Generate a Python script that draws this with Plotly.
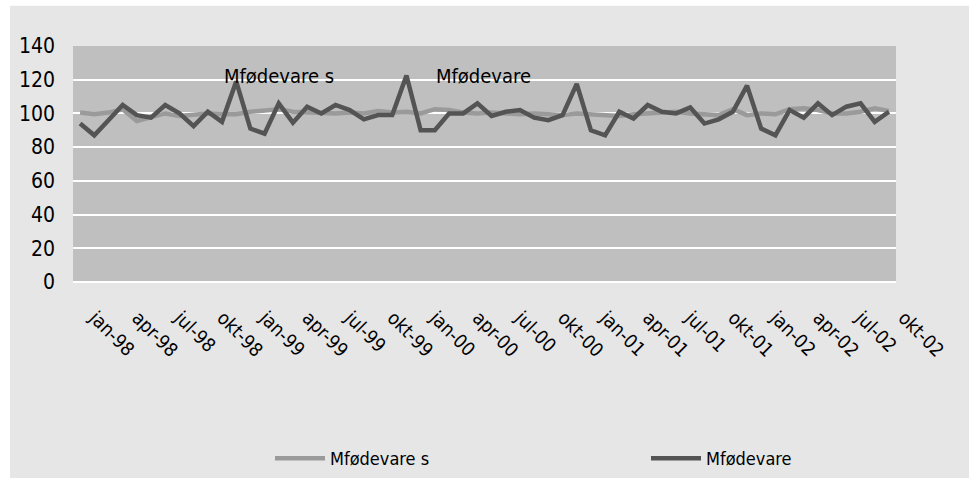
import plotly.graph_objects as go

# Monthly index, jan-98 .. okt-02
tick_labels = ["jan-98", "apr-98", "jul-98", "okt-98", "jan-99", "apr-99", "jul-99", "okt-99",
               "jan-00", "apr-00", "jul-00", "okt-00", "jan-01", "apr-01", "jul-01", "okt-01",
               "jan-02", "apr-02", "jul-02", "okt-02"]

mfoedevare_s = [100.5, 99.5, 100.5, 102.5, 95.5, 98, 100, 98.5, 99, 100, 99.5, 99.5,
                101, 102, 102.5, 101, 100.5, 100, 100, 100.5, 100, 101.5, 100.5, 101,
                100, 102.5, 102, 100.5, 100, 100.5, 100, 99.5, 100, 99.5, 99, 100,
                99.5, 98.5, 98.5, 99.5, 100, 100.5, 101, 100, 99.5, 99, 102.5, 99,
                100, 99.5, 102.5, 103, 102, 100, 100, 101, 103, 101.5]

mfoedevare = [94, 87, 96, 105, 99, 97.5, 105, 100, 92.5, 101, 95, 119,
              91, 88, 106, 94.5, 104, 100, 105, 102, 96.5, 99, 99, 122.5,
              90, 90, 100, 100, 106, 98.5, 101, 102, 97.5, 96, 99, 117.5,
              90, 87, 101, 97, 105, 101, 100, 103.5, 94, 96.5, 101, 116.5,
              91, 87, 102, 97.5, 106, 99, 104, 106, 95, 101]

y_ticks = [0, 20, 40, 60, 80, 100, 120, 140]

months = list(range(len(mfoedevare)))
tick_pos = months[::3]

FONT = "DejaVu Sans Condensed, Liberation Sans Narrow, Arial Narrow, sans-serif"

fig = go.Figure()
fig.add_trace(go.Scatter(x=months, y=mfoedevare_s, mode="lines", name="Mfødevare s",
                         line=dict(color="#9a9a9a", width=4.5)))
fig.add_trace(go.Scatter(x=months, y=mfoedevare, mode="lines", name="Mfødevare",
                         line=dict(color="#545454", width=4.5)))

# series name labels inside the plot
fig.add_annotation(x=14, y=122, text="Mfødevare s", showarrow=False,
                   font=dict(family=FONT, size=20, color="black"))
fig.add_annotation(x=28.4, y=122, text="Mfødevare", showarrow=False,
                   font=dict(family=FONT, size=20, color="black"))

# white strips along the top and left edges of the chart frame
fig.add_shape(type="rect", xref="paper", yref="paper", x0=-0.2, x1=1.2,
              y0=(282.3 - 6) / 236, y1=1.5, fillcolor="white", line_width=0, layer="below")
fig.add_shape(type="rect", xref="paper", yref="paper", x0=-0.2, x1=-63 / 823,
              y0=-1, y1=1.5, fillcolor="white", line_width=0, layer="below")

fig.update_layout(
    width=969, height=478,
    margin=dict(l=73, r=73, t=46, b=196),
    paper_bgcolor="#e6e6e6",
    plot_bgcolor="#bfbfbf",
    font=dict(family=FONT, size=20, color="black"),
    showlegend=True,
    legend=dict(orientation="h", xref="container", yref="container",
                x=270 / 969, y=1 - 440 / 478, xanchor="left", yanchor="top",
                entrywidth=311, entrywidthmode="pixels", itemwidth=50,
                font=dict(family=FONT, size=18, color="black"),
                bgcolor="rgba(0,0,0,0)"),
)
fig.update_xaxes(range=[-0.5, len(months) - 0.5], tickmode="array", tickvals=tick_pos,
                 ticktext=tick_labels[:len(tick_pos)], tickangle=45, showgrid=False,
                 zeroline=False, showline=False, ticks="", ticklabelstandoff=20,
                 ticklabelshift=15, tickfont=dict(family=FONT, size=19))
fig.update_yaxes(range=[0, 140], tickmode="array", tickvals=y_ticks, showgrid=True,
                 gridcolor="white", gridwidth=2, zeroline=True, zerolinecolor="white",
                 zerolinewidth=2, showline=False, ticks="", ticklabelstandoff=17,
                 tickfont=dict(family=FONT, size=21))

fig.write_html("out.html")
